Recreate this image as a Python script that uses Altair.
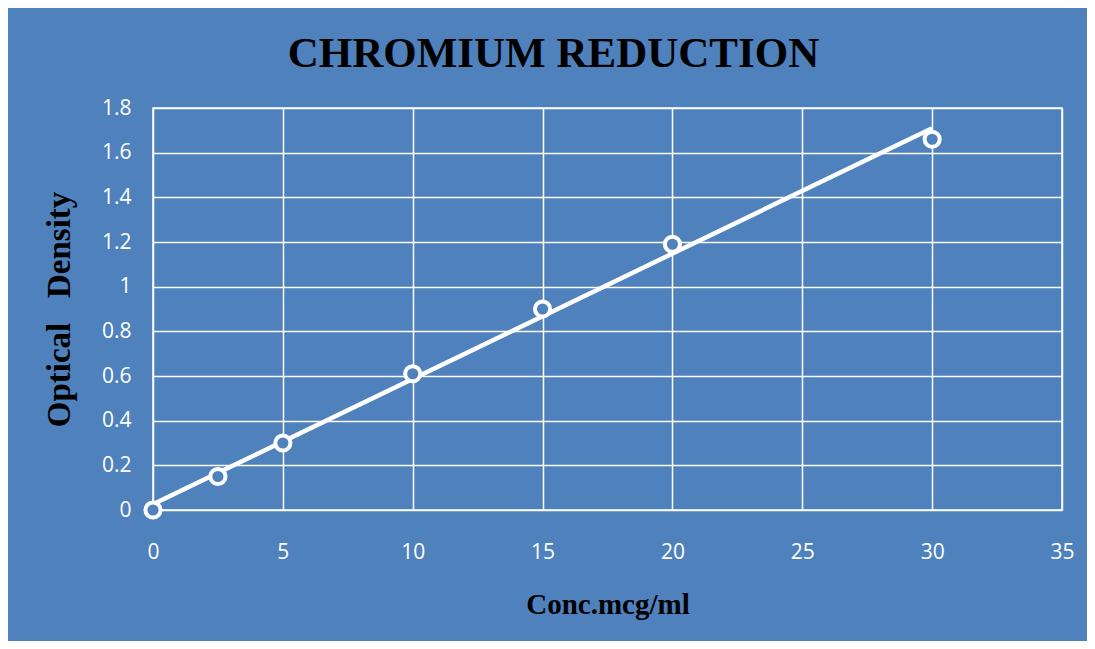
import altair as alt
import pandas as pd

conc = [0, 2.5, 5, 10, 15, 20, 30]
od = [0.0, 0.15, 0.30, 0.61, 0.90, 1.19, 1.66]
x_ticks = [0, 5, 10, 15, 20, 25, 30, 35]
y_ticks = [0, 0.2, 0.4, 0.6, 0.8, 1, 1.2, 1.4, 1.6, 1.8]

df = pd.DataFrame({"conc": conc, "od": od})

BG = "#4F81BD"

x = alt.X("conc:Q", scale=alt.Scale(domain=[0, 35], nice=False),
          axis=alt.Axis(values=x_ticks, title="Conc.mcg/ml", format="~g", labelFlush=False,
                        titlePadding=28, labelPadding=31, titleFontSize=29))
y = alt.Y("od:Q", scale=alt.Scale(domain=[0, 1.8], nice=False),
          axis=alt.Axis(values=y_ticks, format="~g", labelFlush=False,
                        title="Optical\u00a0\u00a0\u00a0Density", titlePadding=25, labelPadding=22,
                        titleFontSize=33))

base = alt.Chart(df)

line = base.transform_regression("conc", "od", extent=[0, 30]).mark_line(
    color="white", strokeWidth=4.5, clip=False
).encode(x=x, y=y)

pts = base.mark_point(
    shape="circle", filled=False, fill=BG, fillOpacity=1, stroke="white",
    strokeWidth=4, size=230, opacity=1
).encode(x=x, y=y)

chart = alt.layer(line, pts).properties(
    width=909, height=402,
    background=BG,
    padding={"left": 145, "top": 100, "right": 25, "bottom": 131},
    autosize=alt.AutoSizeParams(type="none"),
    title=alt.TitleParams("CHROMIUM REDUCTION", font="Liberation Serif", fontSize=43,
                          fontWeight="bold", color="black", anchor="middle", dx=-54,
                          offset=21),
).configure_view(stroke="white", strokeWidth=1.5).configure_axis(
    grid=True, gridColor="white", gridWidth=1.5, gridOpacity=1,
    domain=False, ticks=False,
    labelColor="white", labelFont="Open Sans", labelFontSize=21,
    titleColor="black", titleFont="Liberation Serif",
    titleFontWeight="bold"
)

chart.save("out.html", embed_options={"renderer": "svg", "actions": False})
